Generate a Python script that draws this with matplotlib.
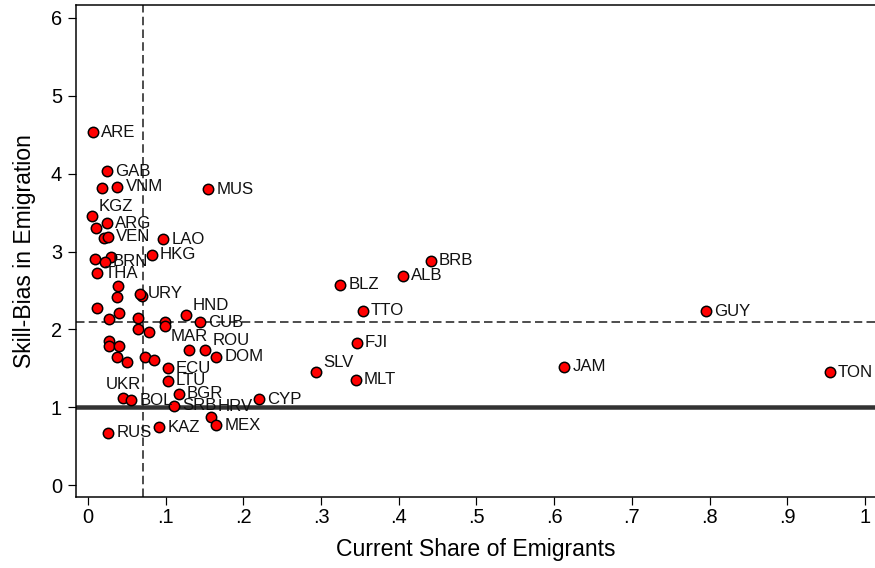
import matplotlib
matplotlib.use('Agg')
import matplotlib.pyplot as plt

plt.rcParams['font.family'] = ['Liberation Sans', 'DejaVu Sans']

# Labeled countries
countries = ['ARE', 'GAB', 'VNM', 'MUS', 'KGZ', 'ARG', 'VEN', 'LAO', 'HKG', 'BRN',
             'THA', 'URY', 'HND', 'CUB', 'MAR', 'ROU', 'DOM', 'ECU', 'LTU', 'BGR',
             'UKR', 'BOL', 'SRB', 'HRV', 'MEX', 'CYP', 'RUS', 'KAZ', 'BRB', 'ALB',
             'BLZ', 'TTO', 'FJI', 'SLV', 'MLT', 'GUY', 'TON', 'JAM']
share = [0.006, 0.025, 0.038, 0.155, 0.005, 0.025, 0.026, 0.097, 0.082, 0.022,
         0.011, 0.067, 0.126, 0.144, 0.130, 0.151, 0.165, 0.103, 0.103, 0.117,
         0.045, 0.056, 0.111, 0.158, 0.165, 0.220, 0.026, 0.092, 0.441, 0.405,
         0.325, 0.354, 0.346, 0.294, 0.345, 0.795, 0.955, 0.613]
bias = [4.53, 4.03, 3.83, 3.80, 3.45, 3.36, 3.19, 3.16, 2.96, 2.87,
        2.72, 2.46, 2.18, 2.09, 1.74, 1.73, 1.65, 1.50, 1.34, 1.17,
        1.12, 1.09, 1.02, 0.88, 0.77, 1.10, 0.67, 0.74, 2.88, 2.69,
        2.57, 2.24, 1.83, 1.45, 1.35, 2.23, 1.45, 1.52]

# Unlabeled observations
share_nolab = [0.018, 0.010, 0.021, 0.009, 0.030, 0.039, 0.038, 0.070, 0.012, 0.040,
               0.027, 0.064, 0.099, 0.099, 0.064, 0.079, 0.027, 0.027, 0.040, 0.037,
               0.050, 0.074, 0.085]
bias_nolab = [3.82, 3.30, 3.17, 2.91, 2.93, 2.56, 2.41, 2.43, 2.28, 2.21,
              2.13, 2.15, 2.10, 2.04, 2.01, 1.97, 1.85, 1.78, 1.78, 1.65,
              1.58, 1.65, 1.60]

mean_share = 0.071
mean_bias = 2.09

xticks = [0, 0.1, 0.2, 0.3, 0.4, 0.5, 0.6, 0.7, 0.8, 0.9, 1.0]
xticklabels = ['0', '.1', '.2', '.3', '.4', '.5', '.6', '.7', '.8', '.9', '1']
yticks = [0, 1, 2, 3, 4, 5, 6]

# label placement (clock positions, Stata style)
label_pos = {'KGZ': 1, 'HND': 1, 'MAR': 12, 'ROU': 1, 'UKR': 12, 'SLV': 1, 'HRV': 1}

W, H = 875, 568
fig = plt.figure(figsize=(W / 72, H / 72), dpi=72)
ax = fig.add_axes([76 / W, 1 - 497 / H, 1 - 76 / W, (497 - 5) / H])
ax.set_xlim(-0.0154, 1.0129)
ax.set_ylim(-0.154, 6.167)

ax.axhline(1, color='#333333', lw=4.5, zorder=1)
ax.axhline(mean_bias, color='#333333', lw=1.7, dashes=(5, 2.5), zorder=1)
ax.axvline(mean_share, color='#333333', lw=1.7, dashes=(5, 2.5), zorder=1)

ax.scatter(share_nolab, bias_nolab, s=108, facecolor='#ff0000', edgecolor='black',
           linewidth=1.5, zorder=3)
ax.scatter(share, bias, s=108, facecolor='#ff0000', edgecolor='black',
           linewidth=1.5, zorder=3)

for name, xv, yv in zip(countries, share, bias):
    pos = label_pos.get(name, 3)
    if pos == 3:
        off, ha = (8, 0), 'left'
    elif pos == 1:
        off, ha = (7, 10), 'left'
    else:
        off, ha = (0, 13), 'center'
    ax.annotate(name, (xv, yv), xytext=off, textcoords='offset points',
                ha=ha, va='center', fontsize=16.8, color='#111111', zorder=4)

for side in ['top', 'left', 'bottom']:
    ax.spines[side].set_linewidth(1.5)
    ax.spines[side].set_color('black')
ax.spines['right'].set_visible(False)

ax.set_xticks(xticks)
ax.set_xticklabels(xticklabels)
ax.set_yticks(yticks)
ax.set_yticklabels([str(t) for t in yticks])
ax.tick_params(axis='both', length=8, width=1.2, labelsize=20, colors='black')
ax.tick_params(axis='x', pad=3)
ax.tick_params(axis='y', pad=6)

ax.set_xlabel('Current Share of Emigrants', fontsize=23, labelpad=11)
ax.set_ylabel('Skill-Bias in Emigration', fontsize=23, labelpad=15)

fig.savefig('out.png', dpi=72)
